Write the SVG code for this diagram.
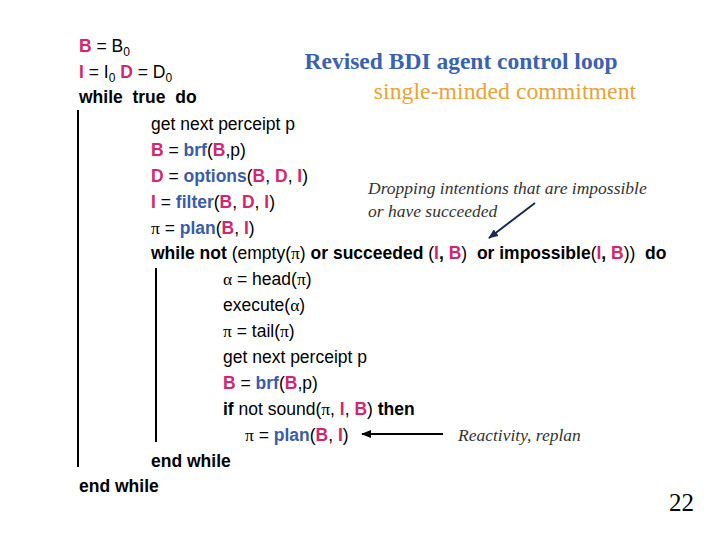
<svg xmlns="http://www.w3.org/2000/svg" width="720" height="540" viewBox="0 0 720 540" xml:space="preserve">
<style>
text{font-family:"Liberation Sans",Arial,sans-serif;font-size:17.5px;fill:#000;white-space:pre}
.p{fill:#d6246e;font-weight:bold}
.u{fill:#3b5ca8;font-weight:bold}
.b{font-weight:bold}
.g{font-family:"Liberation Serif",serif}
.s{font-size:12px}
.it{font-family:"Liberation Serif",serif;font-style:italic;font-size:17.5px;fill:#333}
</style>
<defs>
<marker id="ah" markerWidth="10" markerHeight="8" refX="9" refY="4" orient="auto" markerUnits="userSpaceOnUse"><path d="M0,0L10,4L0,8z" fill="#1a2a4a"/></marker>
<marker id="ak" markerWidth="10" markerHeight="8" refX="9" refY="4" orient="auto" markerUnits="userSpaceOnUse"><path d="M0,0L10,4L0,8z" fill="#000"/></marker>
</defs>
<rect width="720" height="540" fill="#fff"/>
<g id="title">
<text x="461" y="69" text-anchor="middle" style="font-family:'Liberation Serif',serif;font-size:23.5px;font-weight:bold;fill:#3a62b0">Revised BDI agent control loop</text>
<text x="505" y="99" text-anchor="middle" style="font-family:'Liberation Serif',serif;font-size:23.8px;fill:#e8a33a">single-minded commitment</text>
</g>
<g id="code">
<text x="79" y="52"><tspan class="p">B</tspan> = B<tspan class="s" dy="4">0</tspan></text>
<text x="79" y="78"><tspan class="p">I</tspan> = I<tspan class="s" dy="4">0</tspan><tspan dy="-4"> </tspan><tspan class="p">D</tspan> = D<tspan class="s" dy="4">0</tspan></text>
<text x="79" y="103" class="b">while  true  do</text>
<text x="151" y="130">get next perceipt p</text>
<text x="151" y="156"><tspan class="p">B</tspan> = <tspan class="u">brf</tspan>(<tspan class="p">B</tspan>,p)</text>
<text x="151" y="182"><tspan class="p">D</tspan> = <tspan class="u">options</tspan>(<tspan class="p">B</tspan>, <tspan class="p">D</tspan>, <tspan class="p">I</tspan>)</text>
<text x="151" y="208"><tspan class="p">I</tspan> = <tspan class="u">filter</tspan>(<tspan class="p">B</tspan>, <tspan class="p">D</tspan>, <tspan class="p">I</tspan>)</text>
<text x="151" y="234"><tspan class="g">π</tspan> = <tspan class="u">plan</tspan>(<tspan class="p">B</tspan>, <tspan class="p">I</tspan>)</text>
<text x="151" y="259" class="b">while not <tspan font-weight="normal">(empty(<tspan class="g">π</tspan>)</tspan> or succeeded <tspan font-weight="normal">(</tspan><tspan class="p">I</tspan>, <tspan class="p">B</tspan><tspan font-weight="normal">)</tspan>  or impossible<tspan font-weight="normal">(</tspan><tspan class="p">I</tspan>, <tspan class="p">B</tspan><tspan font-weight="normal">))</tspan>  do</text>
<text x="223" y="285"><tspan class="g">α</tspan> = head(<tspan class="g">π</tspan>)</text>
<text x="223" y="311">execute(<tspan class="g">α</tspan>)</text>
<text x="223" y="337"><tspan class="g">π</tspan> = tail(<tspan class="g">π</tspan>)</text>
<text x="223" y="363">get next perceipt p</text>
<text x="223" y="389"><tspan class="p">B</tspan> = <tspan class="u">brf</tspan>(<tspan class="p">B</tspan>,p)</text>
<text x="223" y="415"><tspan class="b">if</tspan> not sound(<tspan class="g">π</tspan>, <tspan class="p">I</tspan>, <tspan class="p">B</tspan>) <tspan class="b">then</tspan></text>
<text x="245" y="441"><tspan class="g">π</tspan> = <tspan class="u">plan</tspan>(<tspan class="p">B</tspan>, <tspan class="p">I</tspan>)</text>
<text x="151" y="467" class="b">end while</text>
<text x="79" y="492" class="b">end while</text>
</g>
<g id="notes">
<text x="368" y="194" class="it">Dropping intentions that are impossible</text>
<text x="368" y="217" class="it">or have succeeded</text>
<text x="458" y="441" class="it">Reactivity, replan</text>
<text x="694" y="511" text-anchor="end" style="font-family:'Liberation Serif',serif;font-size:25px">22</text>
</g>
<g id="connectors">
<line x1="78" y1="110" x2="78" y2="467" stroke="#000" stroke-width="2"/>
<line x1="156" y1="268" x2="156" y2="442" stroke="#000" stroke-width="2"/>
<line x1="535" y1="203" x2="489" y2="238" stroke="#1a2a4a" stroke-width="2" marker-end="url(#ah)"/>
<line x1="443" y1="434" x2="362" y2="434" stroke="#000" stroke-width="2" marker-end="url(#ak)"/>
</g>
</svg>
